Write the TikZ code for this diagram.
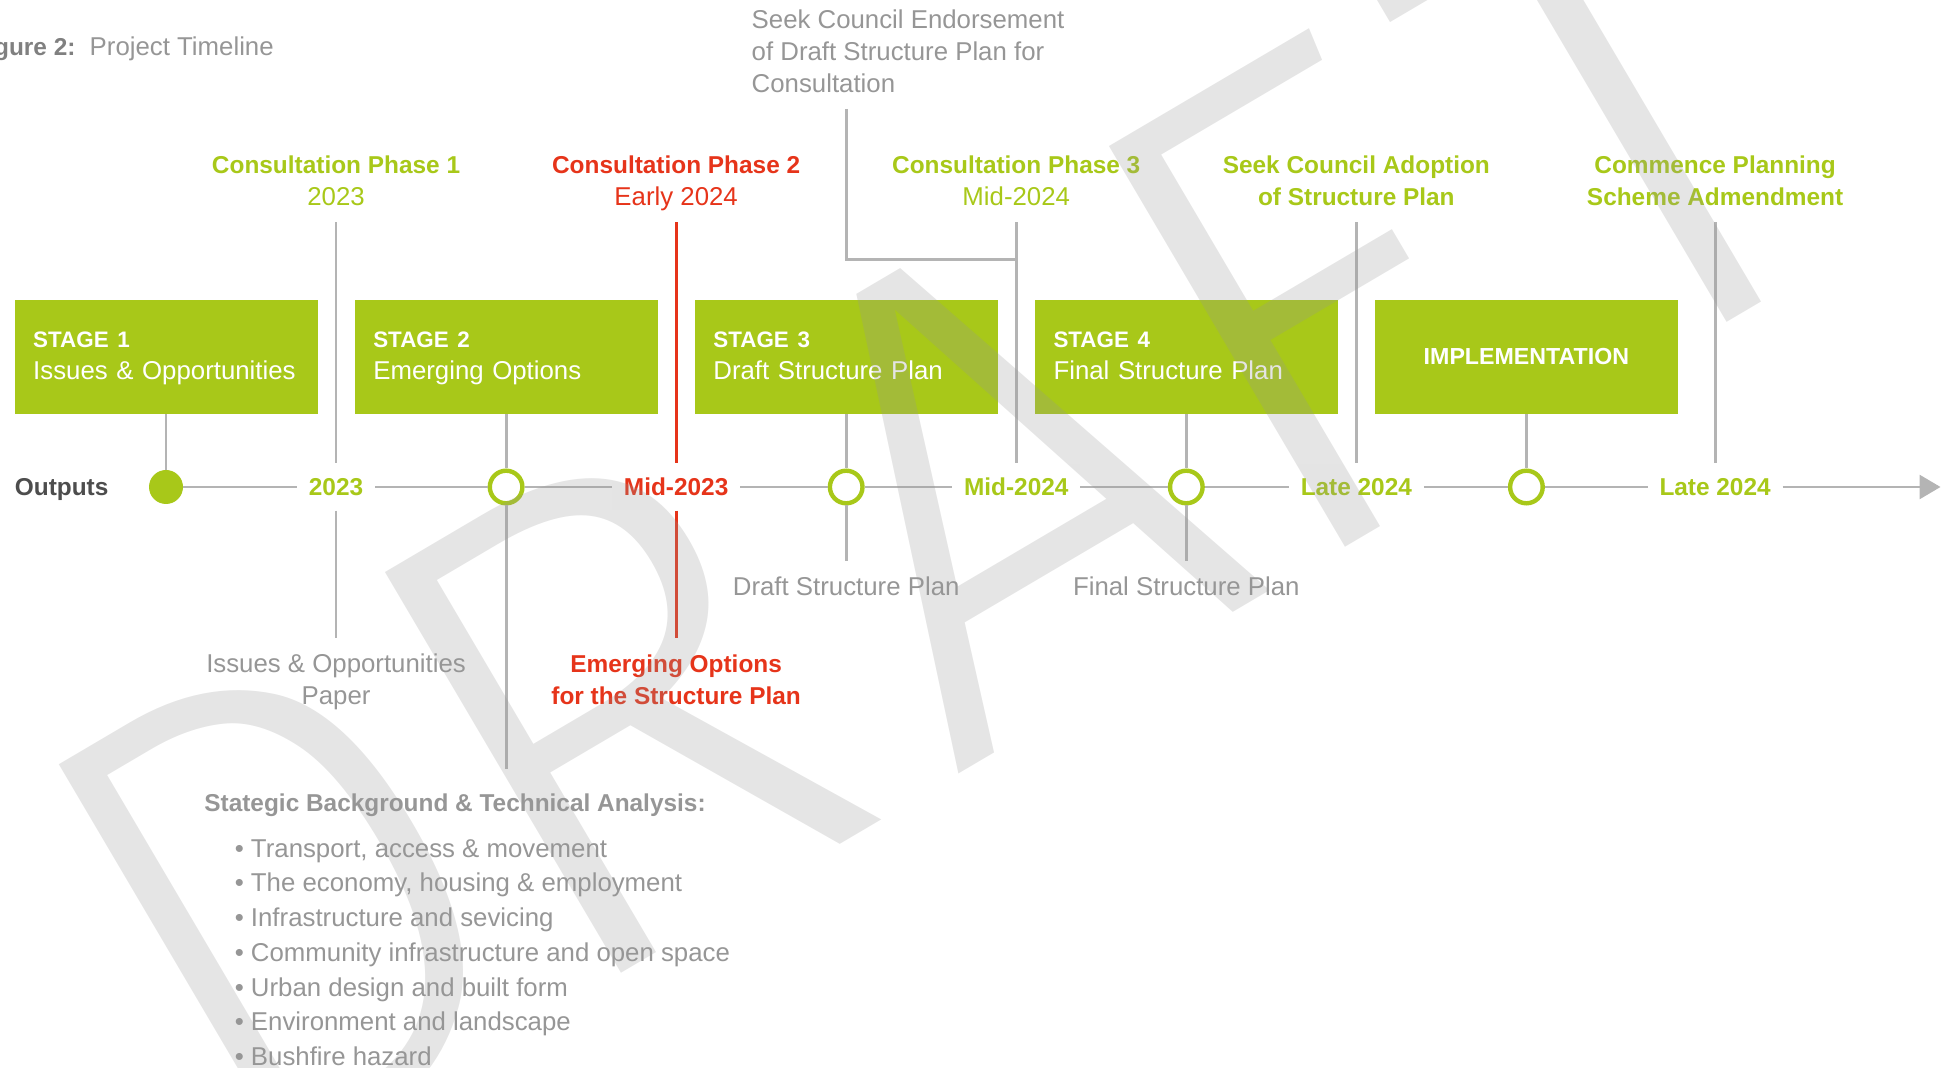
\documentclass[tikz,border=0pt]{standalone}
\usepackage{fontspec}
\setmainfont{Liberation Sans}
\IfFontExistsTF{Fira Sans Light}{\newfontfamily\wmfont{Fira Sans Light}}{\newfontfamily\wmfont{Liberation Sans}}
\usepackage{xcolor}
\usepackage{graphicx}
\usetikzlibrary{arrows.meta}

\definecolor{tlgreen}{RGB}{168,200,25}
\definecolor{tlred}{RGB}{230,52,26}
\definecolor{txtgray}{RGB}{150,150,150}
\definecolor{linegray}{RGB}{180,180,180}
\definecolor{outgray}{RGB}{77,77,77}
\definecolor{figgray}{RGB}{128,128,128}
\definecolor{wmgray}{RGB}{150,150,150}

\newcommand{\tlreg}{\fontsize{12.9pt}{16pt}\selectfont}
\newcommand{\tlbf}{\fontsize{12.2pt}{16pt}\selectfont\bfseries}
\newcommand{\tlstage}{\fontsize{11.2pt}{15.85pt}\selectfont\bfseries}

\tikzset{
  stagebox/.style={fill=tlgreen, text=white, minimum height=56.7pt, inner xsep=9.35pt, inner ysep=0pt,
    text width=132.8pt, align=left, font=\fontsize{12.9pt}{15.85pt}\selectfont},
  tline/.style={draw=linegray, line width=1.4pt},
  redline/.style={draw=tlred, line width=1.4pt},
  dot/.style={circle, fill=tlgreen, minimum size=17pt, inner sep=0pt},
  ring/.style={circle, draw=tlgreen, line width=2.2pt, fill=white, minimum size=16.3pt, inner sep=0pt},
  datelabel/.style={fill=white, inner xsep=5.75pt, inner ysep=7.3pt, text height=8.75pt, text depth=0pt, font=\tlbf},
  toplabel/.style={anchor=north, align=center, inner sep=0pt, font=\tlreg},
  graytext/.style={inner sep=0pt, text=txtgray, font=\tlreg}
}

\begin{document}
\begin{tikzpicture}[x=0.5pt, y=-0.5pt]
\useasboundingbox (0,0) rectangle (1948,1068);
\clip (0,0) rectangle (1948,1068);

% title
\node[anchor=base east, inner sep=0pt, text=figgray, font=\tlbf] (fig) at (75.9,56) {Figure 2:};
\node[anchor=base west, inner sep=0pt, text=txtgray, font=\tlreg] (ttl) at (89.3,56) {Project Timeline};

% stages
\node[stagebox] (s1) at (166,357) {\strut{\tlstage STAGE 1}\\\strut Issues \& Opportunities};
\node[stagebox] (s2) at (506.1,357) {\strut{\tlstage STAGE 2}\\\strut Emerging Options};
\node[stagebox] (s3) at (846.2,357) {\strut{\tlstage STAGE 3}\\\strut Draft Structure Plan};
\node[stagebox] (s4) at (1186.3,357) {\strut{\tlstage STAGE 4}\\\strut Final Structure Plan};
\node[stagebox, align=center] (s5) at (1526.4,357) {\fontsize{11.6pt}{15.85pt}\selectfont\bfseries IMPLEMENTATION};

% milestones on the timeline
\node[anchor=west, inner sep=0pt, font=\tlbf, text=outgray, text height=8.75pt, text depth=0pt] (out) at (14.5,487) {Outputs};
\node[dot] (c1) at (166,487) {};
\node[ring] (c2) at (506.1,487) {};
\node[ring] (c3) at (846.2,487) {};
\node[ring] (c4) at (1186.3,487) {};
\node[ring] (c5) at (1526.4,487) {};

\node[datelabel, text=tlgreen] (d1) at (336.05,487) {2023};
\node[datelabel, text=tlred] (d2) at (676.15,487) {Mid-2023};
\node[datelabel, text=tlgreen] (d3) at (1016.25,487) {Mid-2024};
\node[datelabel, text=tlgreen] (d4) at (1356.35,487) {Late 2024};
\node[datelabel, text=tlgreen] (d5) at (1715.1,487) {Late 2024};

% labels above
\node[toplabel, text=tlgreen] (p1) at (336.05,150.9) {\strut{\tlbf Consultation Phase 1}\\\strut 2023};
\node[toplabel, text=tlred] (p2) at (676.15,150.9) {\strut{\tlbf Consultation Phase 2}\\\strut Early 2024};
\node[toplabel, text=tlgreen] (p3) at (1016.25,150.9) {\strut{\tlbf Consultation Phase 3}\\\strut Mid-2024};
\node[toplabel, text=tlgreen] (p4) at (1356.35,150.9) {\strut{\tlbf Seek Council Adoption}\\\strut{\tlbf of Structure Plan}};
\node[toplabel, text=tlgreen] (p5) at (1715.1,150.9) {\strut{\tlbf Commence Planning}\\\strut{\tlbf Scheme Admendment}};
\node[graytext, anchor=north west, align=left] (endorse) at (751.3,5.9)
  {\strut Seek Council Endorsement\\\strut of Draft Structure Plan for\\\strut Consultation};

% labels below
\node[graytext, anchor=north, align=center] (q1) at (336.05,649.6) {\strut Issues \& Opportunities\\\strut Paper};
\node[toplabel, text=tlred] (q2) at (676.15,649.6) {\strut{\tlbf Emerging Options}\\\strut{\tlbf for the Structure Plan}};
\node[graytext, anchor=base] (q3) at (846.2,595.3) {Draft Structure Plan};
\node[graytext, anchor=base] (q4) at (1186.3,595.3) {Final Structure Plan};
\node[anchor=base west, inner sep=0pt, text=txtgray, font=\tlbf] (sba) at (204,811) {Stategic Background \& Technical Analysis:};
\node[graytext, anchor=north west, align=left, font=\fontsize{12.9pt}{17.375pt}\selectfont] (items) at (234.4,832.5)
  {\strut • Transport, access \& movement\\
   \strut • The economy, housing \& employment\\
   \strut • Infrastructure and sevicing\\
   \strut • Community infrastructure and open space\\
   \strut • Urban design and built form\\
   \strut • Environment and landscape\\
   \strut • Bushfire hazard};

% free line ends
\coordinate (t1) at (336.05,222.4);
\coordinate (t2) at (676.15,222.4);
\coordinate (t3) at (1016.25,222.4);
\coordinate (t4) at (1356.35,222.4);
\coordinate (t5) at (1715.1,222.4);
\coordinate (u1) at (336.05,637.9);
\coordinate (u2) at (676.15,637.9);
\coordinate (b2) at (506.1,769);
\coordinate (b3) at (846.2,561.2);
\coordinate (b4) at (1186.3,561.2);
\coordinate (e0) at (846.2,109);
\coordinate (ej) at (1016.25,259.9);
\coordinate (tlend) at (1940.5,487);

% connectors
\draw[tline] (c1) -- (d1);
\draw[tline] (d1) -- (c2);
\draw[tline] (c2) -- (d2);
\draw[tline] (d2) -- (c3);
\draw[tline] (c3) -- (d3);
\draw[tline] (d3) -- (c4);
\draw[tline] (c4) -- (d4);
\draw[tline] (d4) -- (c5);
\draw[tline] (c5) -- (d5);
\draw[tline, -{Triangle[length=10.5pt, width=12pt]}] (d5) -- (tlend);

\draw[tline] (s1) -- (c1);
\draw[tline] (s2) -- (c2);
\draw[tline] (s3) -- (c3);
\draw[tline] (s4) -- (c4);
\draw[tline] (s5) -- (c5);
\draw[tline] (c2) -- (b2);
\draw[tline] (c3) -- (b3);
\draw[tline] (c4) -- (b4);

\draw[tline] (t1) -- (d1);
\draw[tline] (d1) -- (u1);
\draw[redline] (t2) -- (d2);
\draw[redline] (d2) -- (u2);
\draw[tline] (t3) -- (d3);
\draw[tline] (t4) -- (d4);
\draw[tline] (t5) -- (d5);
\draw[tline] (e0) |- (ej);

% watermark
\node[rotate=30.5, anchor=base west, inner sep=0pt, text=wmgray, text opacity=0.25,
  font=\wmfont\fontsize{339.5pt}{340pt}\selectfont] (wm) at (237.6,1199.4)
  {\scalebox{0.89}[1]{D}\kern-6pt R\kern28pt AF\kern22pt T};
\end{tikzpicture}
\end{document}
